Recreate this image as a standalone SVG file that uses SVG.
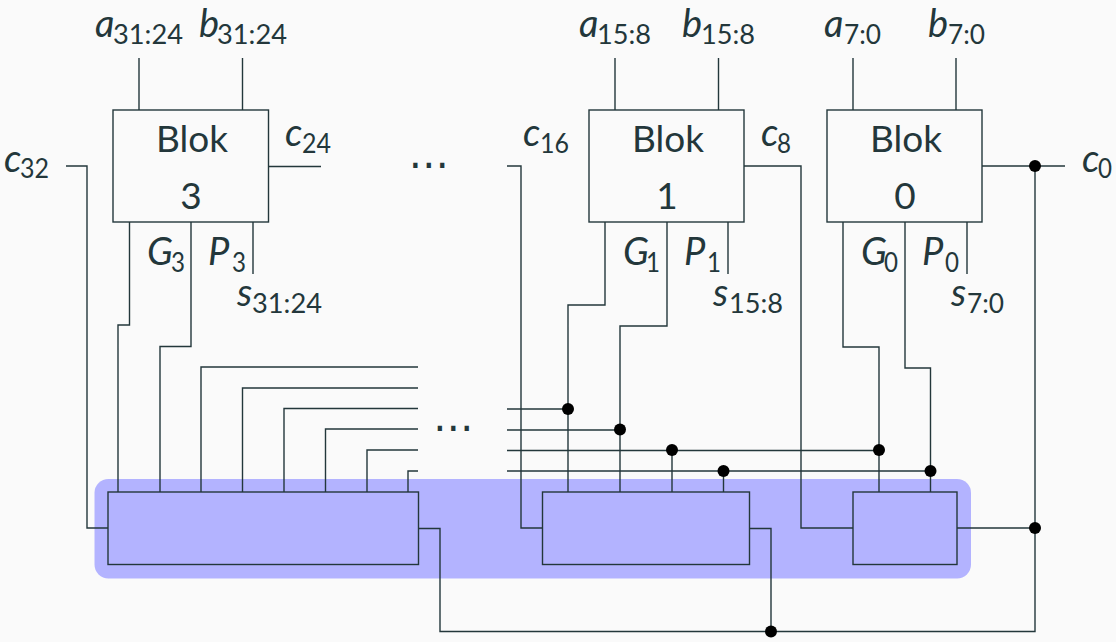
<svg xmlns="http://www.w3.org/2000/svg" width="1116" height="642" viewBox="0 0 1116 642">
<style>
.w{fill:none;stroke:#23373b;stroke-width:1.4;stroke-linejoin:miter}
.f{fill:#fafafa;stroke:#23373b;stroke-width:1.4}
.p{fill:#b3b3ff;stroke:#23373b;stroke-width:1.4}
.d{fill:#000}
text{font-family:"Lato","Open Sans",sans-serif;fill:#23373b}
.t{font-size:37px}
.i{font-size:38px;font-style:italic}
.s{font-size:27px}
.e{font-family:"DejaVu Sans",sans-serif;font-size:41px}
</style>
<rect width="1116" height="642" fill="#fafafa"/>
<rect id="highlight" x="94.5" y="479" width="876.5" height="99.5" rx="14" fill="#b3b3ff"/>
<g id="connectors">
<path class="w" d="M139 58V110M242.5 58V110M615 58V110M718.5 58V110M853 58V110M956 58V110"/>
<path class="w" d="M269 166.500H321M66 166H87V528H108"/>
<path class="w" d="M129.500 222V325H118V492M191 222V346.500H160V492M253 222V274"/>
<path class="w" d="M201 492V367H418M242.500 492V388H418M284 492V408.500H418M325.500 492V429H418M367 492V450H418M408 492V471H418"/>
<path class="w" d="M507 409H568M507 430H620M507 450.500H879M507 471H930"/>
<path class="w" d="M605 222V305H568V492M667 222V326H620V492M672 450V492M723.500 471V492M728 222V274"/>
<path class="w" d="M507 166H521V528H542.500M744 166H801V528H853"/>
<path class="w" d="M843 222V347H879V492M905 222V368H930.500V492M967 222V274"/>
<path class="w" d="M982 166H1065M1035 166V631.500H440V528.500H418.500M957 528H1035M749.500 528.500H771V631"/>
</g>
<g id="dots">
<circle class="d" cx="568" cy="409" r="6"/><circle class="d" cx="620" cy="429.500" r="6"/><circle class="d" cx="672" cy="450" r="6"/><circle class="d" cx="723.500" cy="471" r="6"/>
<circle class="d" cx="879" cy="450" r="6"/><circle class="d" cx="930.500" cy="471" r="6"/><circle class="d" cx="1035" cy="166" r="6"/><circle class="d" cx="1035" cy="528" r="6"/><circle class="d" cx="771" cy="631.500" r="6"/>
</g>
<g id="block3"><rect class="f" x="113" y="110" width="155.500" height="112"/>
<text class="t" x="156" y="152" textLength="72" lengthAdjust="spacingAndGlyphs">Blok</text><text class="t" x="191" y="209" text-anchor="middle">3</text></g>
<g id="block1"><rect class="f" x="589" y="110" width="155" height="112"/>
<text class="t" x="632" y="152" textLength="72" lengthAdjust="spacingAndGlyphs">Blok</text><text class="t" x="667" y="209" text-anchor="middle">1</text></g>
<g id="block0"><rect class="f" x="827" y="110" width="155" height="112"/>
<text class="t" x="870" y="152" textLength="72" lengthAdjust="spacingAndGlyphs">Blok</text><text class="t" x="905" y="209" text-anchor="middle">0</text></g>
<g id="carry3"><rect class="p" x="108" y="492" width="310.500" height="72.500"/></g>
<g id="carry1"><rect class="p" x="542.500" y="492" width="207" height="72.500"/></g>
<g id="carry0"><rect class="p" x="853" y="492" width="104" height="72.500"/></g>
<g id="labels">
<text class="i" x="95" y="37">a</text><text class="s" x="113" y="44" textLength="70" lengthAdjust="spacingAndGlyphs">31:24</text>
<text class="i" x="199" y="37">b</text><text class="s" x="217" y="44" textLength="70" lengthAdjust="spacingAndGlyphs">31:24</text>
<text class="i" x="579" y="37">a</text><text class="s" x="597" y="44" textLength="54" lengthAdjust="spacingAndGlyphs">15:8</text>
<text class="i" x="682" y="37">b</text><text class="s" x="701" y="44" textLength="54" lengthAdjust="spacingAndGlyphs">15:8</text>
<text class="i" x="824" y="37">a</text><text class="s" x="844" y="44" textLength="37" lengthAdjust="spacingAndGlyphs">7:0</text>
<text class="i" x="928" y="37">b</text><text class="s" x="948" y="44" textLength="37" lengthAdjust="spacingAndGlyphs">7:0</text>
<text class="i" x="4" y="172">c</text><text class="s" x="20" y="178" textLength="29" lengthAdjust="spacingAndGlyphs">32</text>
<text class="i" x="285" y="146">c</text><text class="s" x="302" y="153" textLength="29" lengthAdjust="spacingAndGlyphs">24</text>
<text class="i" x="523" y="146">c</text><text class="s" x="540" y="153" textLength="29" lengthAdjust="spacingAndGlyphs">16</text>
<text class="i" x="761" y="146">c</text><text class="s" x="777" y="153" textLength="14" lengthAdjust="spacingAndGlyphs">8</text>
<text class="i" x="1082" y="172">c</text><text class="s" x="1098" y="178" textLength="14" lengthAdjust="spacingAndGlyphs">0</text>
<text class="i" x="147" y="265">G</text><text class="s" x="171" y="272" textLength="14" lengthAdjust="spacingAndGlyphs">3</text>
<text class="i" x="208" y="265">P</text><text class="s" x="232" y="272" textLength="14" lengthAdjust="spacingAndGlyphs">3</text>
<text class="i" x="623" y="265">G</text><text class="s" x="646" y="272" textLength="14" lengthAdjust="spacingAndGlyphs">1</text>
<text class="i" x="684" y="265">P</text><text class="s" x="707" y="272" textLength="14" lengthAdjust="spacingAndGlyphs">1</text>
<text class="i" x="861" y="265">G</text><text class="s" x="884" y="272" textLength="14" lengthAdjust="spacingAndGlyphs">0</text>
<text class="i" x="922" y="265">P</text><text class="s" x="945" y="272" textLength="14" lengthAdjust="spacingAndGlyphs">0</text>
<text class="i" x="237" y="306">s</text><text class="s" x="252" y="313" textLength="70" lengthAdjust="spacingAndGlyphs">31:24</text>
<text class="i" x="713" y="306">s</text><text class="s" x="729" y="313" textLength="54" lengthAdjust="spacingAndGlyphs">15:8</text>
<text class="i" x="951" y="306">s</text><text class="s" x="967" y="313" textLength="37" lengthAdjust="spacingAndGlyphs">7:0</text>
<text class="e" x="408.500" y="178">⋯</text>
<text class="e" x="433" y="441">⋯</text>
</g>
</svg>
